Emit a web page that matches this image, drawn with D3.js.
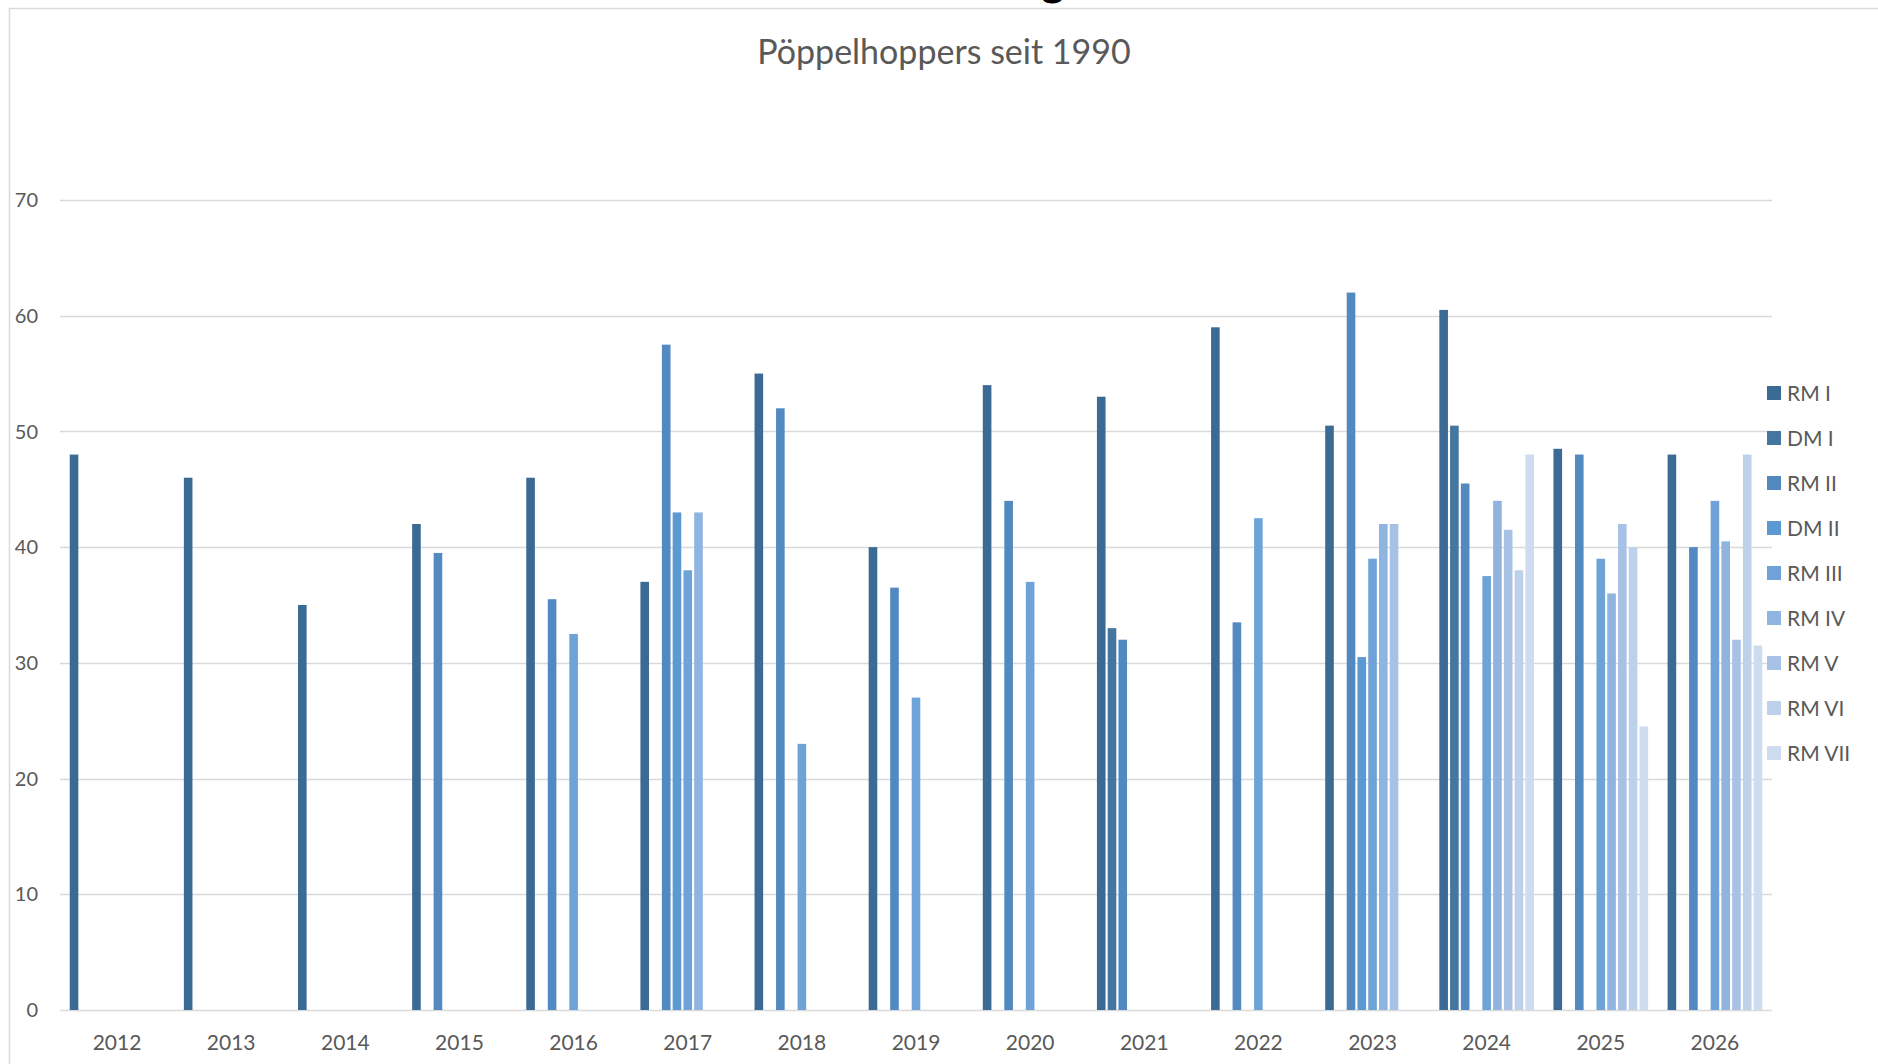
<!DOCTYPE html>
<html>
<head>
<meta charset="utf-8">
<script src="https://cdn.jsdelivr.net/npm/d3@7"></script>
<style>
  body { margin: 0; background: #fff; }
  svg { display: block; font-family: Lato, "Open Sans", sans-serif; }
</style>
</head>
<body>
<script>
// categories
var years = ["2012","2013","2014","2015","2016","2017","2018","2019","2020","2021","2022","2023","2024","2025","2026"];
var seriesNames = ["RM I","DM I","RM II","DM II","RM III","RM IV","RM V","RM VI","RM VII"];
var seriesColors = ["#3b6a94","#44769f","#5189c0","#5a99d2","#6fa3d8","#8fb4df","#a8c2e5","#bed1eb","#cfdcef"];
var yTicks = [0,10,20,30,40,50,60,70];

// series values, one per year (null = no bar)
var rmI   = [48, 46, 35, 42, 46, 37, 55, 40, 54, 53, 59, 50.5, 60.5, 48.5, 48];
var dmI   = [null,null,null,null,null,null,null,null,null, 33, null, null, 50.5, null, null];
var rmII  = [null,null,null, 39.5, 35.5, 57.5, 52, 36.5, 44, 32, 33.5, 62, 45.5, 48, 40];
var dmII  = [null,null,null,null,null, 43, null,null,null,null,null, 30.5, null, null, null];
var rmIII = [null,null,null,null, 32.5, 38, 23, 27, 37, null, 42.5, 39, 37.5, 39, 44];
var rmIV  = [null,null,null,null,null, 43, null,null,null,null,null, 42, 44, 36, 40.5];
var rmV   = [null,null,null,null,null,null,null,null,null,null,null, 42, 41.5, 42, 32];
var rmVI  = [null,null,null,null,null,null,null,null,null,null,null, null, 38, 40, 48];
var rmVII = [null,null,null,null,null,null,null,null,null,null,null, null, 48, 24.5, 31.5];

var allSeries = [rmI, dmI, rmII, dmII, rmIII, rmIV, rmV, rmVI, rmVII];

var W = 1878, H = 1064;
var plot = {left: 60, right: 1772, top: 200, bottom: 1010};

var svg = d3.select("body").append("svg")
    .attr("width", W)
    .attr("height", H);

// chart area border (cut off at right/bottom like the screenshot)
svg.append("path")
    .attr("d", "M9.5," + H + " V8.5 H" + W)
    .attr("fill", "none")
    .attr("stroke", "#d9d9d9")
    .attr("stroke-width", 1.5);

// descender of the cut-off heading above
svg.append("text")
    .attr("x", 1053)
    .attr("y", -4)
    .attr("text-anchor", "middle")
    .style("font-size", "44px")
    .style("font-weight", "900")
    .attr("fill", "#000")
    .text("g");

// scales
var x0 = d3.scaleBand()
    .domain(years)
    .range([plot.left, plot.right])
    .padding(0);

var x1 = d3.scaleBand()
    .domain(seriesNames)
    .range([0, x0.bandwidth()])
    .paddingInner(0.2)
    .paddingOuter(0.905);

var y = d3.scaleLinear()
    .domain([0, 70])
    .range([plot.bottom, plot.top]);

// gridlines
svg.append("g").selectAll("line")
    .data(yTicks)
    .enter().append("line")
    .attr("x1", plot.left)
    .attr("x2", plot.right)
    .attr("y1", function(d) { return Math.round(y(d)) + 0.5; })
    .attr("y2", function(d) { return Math.round(y(d)) + 0.5; })
    .attr("stroke", "#d9d9d9")
    .attr("stroke-width", 1.4);

// y labels
svg.append("g").selectAll("text")
    .data(yTicks)
    .enter().append("text")
    .attr("x", 38)
    .attr("y", function(d) { return y(d); })
    .attr("dy", "0.36em")
    .attr("text-anchor", "end")
    .attr("fill", "#595959")
    .style("font-size", "20px")
    .text(function(d) { return d; });

// x labels
svg.append("g").selectAll("text")
    .data(years)
    .enter().append("text")
    .attr("x", function(d) { return x0(d) + x0.bandwidth() / 2; })
    .attr("y", 1050)
    .attr("text-anchor", "middle")
    .attr("fill", "#595959")
    .style("font-size", "21px")
    .text(function(d) { return d; });

// bars
var groups = svg.append("g").selectAll("g")
    .data(seriesNames)
    .enter().append("g")
    .attr("fill", function(d, i) { return seriesColors[i]; });

groups.selectAll("rect")
    .data(function(name, i) {
        return allSeries[i].map(function(v, j) {
            return {name: name, year: years[j], value: v};
        }).filter(function(d) { return d.value != null; });
    })
    .enter().append("rect")
    .attr("x", function(d) { return x0(d.year) + x1(d.name); })
    .attr("width", x1.bandwidth())
    .attr("y", function(d) { return y(d.value); })
    .attr("height", function(d) { return y(0) - y(d.value); });

// title
svg.append("text")
    .attr("x", 944)
    .attr("y", 64)
    .attr("text-anchor", "middle")
    .attr("fill", "#595959")
    .style("font-size", "34px")
    .text("Pöppelhoppers seit 1990");

// legend
var legend = svg.append("g").selectAll("g")
    .data(seriesNames)
    .enter().append("g")
    .attr("transform", function(d, i) { return "translate(1767," + (386 + i * 45) + ")"; });

legend.append("rect")
    .attr("width", 14)
    .attr("height", 14)
    .attr("fill", function(d, i) { return seriesColors[i]; });

legend.append("text")
    .attr("x", 20)
    .attr("y", 7)
    .attr("dy", "0.36em")
    .attr("fill", "#595959")
    .style("font-size", "21px")
    .text(function(d) { return d; });
</script>
</body>
</html>
